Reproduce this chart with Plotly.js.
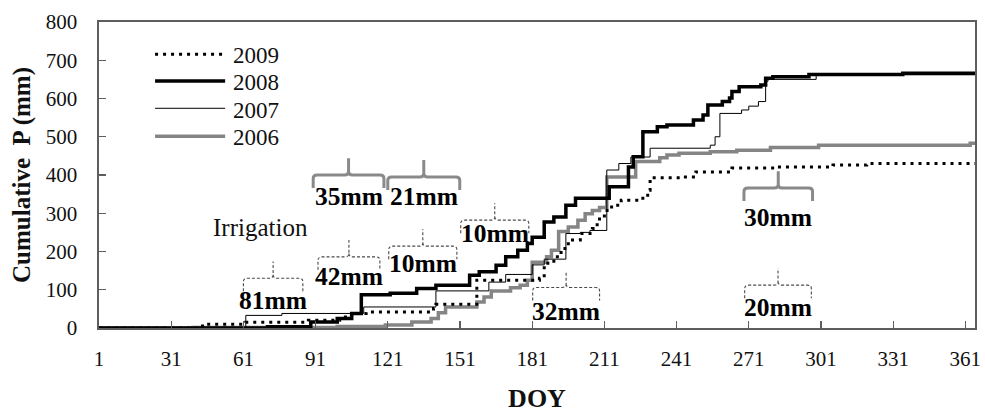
<!DOCTYPE html>
<html>
<head>
<meta charset="utf-8">
<script src="https://cdn.plot.ly/plotly-3.0.1.min.js"></script>
<style>
  html, body { margin: 0; padding: 0; background: #fff; }
  #chart { width: 985px; height: 417px; }
</style>
</head>
<body>
<div id="chart"></div>
<script>
// Cumulative precipitation (mm) by day of year, one step series per year.
const years = ['2009', '2008', '2007', '2006'];

const days2009 = [1, 44, 62, 88, 101, 106, 112, 140, 141, 158, 184, 186, 190, 193, 196, 201, 206, 208, 211, 214, 218, 226, 229, 230, 243, 249, 264, 283, 306, 320, 365];
const cum2009  = [0, 10, 15, 20, 29, 38, 42, 51, 62, 125, 130, 169, 186, 208, 230, 247, 260, 285, 307, 321, 334, 339, 360, 393, 395, 408, 418, 421, 426, 430, 430];

const days2008 = [1, 71, 89, 100, 106, 110, 122, 133, 141, 155, 159, 166, 170, 175, 179, 181, 186, 190, 195, 199, 213, 221, 223, 227, 233, 237, 248, 252, 254, 260, 263, 264, 267, 276, 278, 281, 296, 335, 365];
const cum2008  = [0, 3, 16, 25, 38, 87, 91, 103, 112, 138, 147, 164, 186, 203, 221, 237, 277, 290, 321, 339, 369, 421, 448, 513, 526, 531, 544, 557, 583, 592, 601, 618, 631, 635, 653, 657, 663, 666, 666];

const days2007 = [1, 62, 77, 111, 141, 163, 170, 181, 186, 195, 201, 205, 212, 217, 222, 230, 255, 257, 259, 268, 271, 275, 278, 279, 299, 365];
const cum2007  = [0, 33, 38, 55, 97, 120, 140, 165, 180, 247, 250, 255, 413, 430, 447, 470, 478, 500, 561, 570, 580, 592, 645, 650, 662, 662];

const days2006 = [1, 40, 100, 120, 131, 139, 142, 145, 158, 161, 164, 172, 176, 179, 181, 187, 189, 192, 196, 200, 203, 206, 209, 212, 224, 234, 237, 242, 255, 266, 280, 300, 363, 365];
const cum2006  = [0, 1, 4, 8, 16, 25, 40, 55, 68, 81, 97, 105, 112, 125, 172, 186, 203, 252, 264, 282, 299, 307, 315, 395, 435, 445, 452, 457, 461, 465, 472, 478, 483, 483];

const doyTicks = [1, 31, 61, 91, 121, 151, 181, 211, 241, 271, 301, 331, 361];

// Irrigation events: period (DOY) and applied amount (mm).
const irrigStart  = [61, 92, 90, 121, 121.4, 151.3, 181.2, 269, 269.3];
const irrigEnd    = [85.7, 117.7, 119.4, 150.9, 149.7, 179.6, 209, 297.5, 297];
const irrigAmount = [81, 42, 35, 21, 10, 10, 32, 30, 20];

// Placement of each bracket (mm level of the bar, mm level of its label) and its style.
const bracketLevel = [130, 186, 400, 395, 214, 282, 106, 366, 112];
const labelLevel   = [72, 135, 343, 345, 168, 247, 42, 288, 53];
const bracketSolid = [false, false, true, true, false, false, false, true, false];

const FONT = 'Liberation Serif, Times New Roman, serif';

const lineStyles = {
  '2009': { color: '#000000', width: 3, dash: '3px,5px' },
  '2008': { color: '#000000', width: 3.5, dash: 'solid' },
  '2007': { color: '#000000', width: 1, dash: 'solid' },
  '2006': { color: '#858585', width: 3.5, dash: 'solid' }
};

const seriesData = {
  '2009': [days2009, cum2009],
  '2008': [days2008, cum2008],
  '2007': [days2007, cum2007],
  '2006': [days2006, cum2006]
};

// Draw order: grey first so the black lines sit on top.
const drawOrder = ['2006', '2007', '2009', '2008'];
const traces = drawOrder.map(y => ({
  type: 'scatter',
  mode: 'lines',
  name: y,
  x: seriesData[y][0],
  y: seriesData[y][1],
  line: Object.assign({ shape: 'hv' }, lineStyles[y]),
  showlegend: false,
  hoverinfo: 'skip'
}));

// Brace-like irrigation brackets in data units.
const shapes = [];
const annotations = [];
const hook = 34, tick = 44, rx = 1.6, ry = 9;
for (let i = 0; i < irrigAmount.length; i++) {
  const x0 = irrigStart[i], x1 = irrigEnd[i], xc = (x0 + x1) / 2, yh = bracketLevel[i];
  const yb = yh - hook, yt = yh + tick;
  const path =
    `M${x0},${yb} L${x0},${yh - ry} Q${x0},${yh} ${x0 + rx},${yh} ` +
    `L${xc - rx},${yh} Q${xc},${yh} ${xc},${yh + ry} L${xc},${yt} ` +
    `M${xc},${yh + ry} Q${xc},${yh} ${xc + rx},${yh} ` +
    `L${x1 - rx},${yh} Q${x1},${yh} ${x1},${yh - ry} L${x1},${yb}`;
  shapes.push({
    type: 'path', xref: 'x', yref: 'y', path: path,
    line: bracketSolid[i]
      ? { color: '#8a8a8a', width: 3, dash: 'solid' }
      : { color: '#4a4a4a', width: 1.1, dash: '3px,2px' }
  });
  annotations.push({
    xref: 'x', yref: 'y', x: xc, y: labelLevel[i],
    text: irrigAmount[i] + 'mm', showarrow: false,
    xanchor: 'center', yanchor: 'middle',
    font: { family: FONT, size: 25.5, color: '#000', weight: 'bold' }
  });
}

annotations.push({
  xref: 'x', yref: 'y', x: 68.3, y: 263, text: 'Irrigation', showarrow: false,
  xanchor: 'center', yanchor: 'middle',
  font: { family: FONT, size: 25, color: '#111' }
});

// Legend: sample line plus year label, stacked in the upper-left corner.
const legendRowsY = [0.895, 0.807, 0.718, 0.627];
years.forEach((y, k) => {
  const st = lineStyles[y];
  shapes.push({
    type: 'line', xref: 'paper', yref: 'paper',
    x0: 0.064, x1: 0.144, y0: legendRowsY[k], y1: legendRowsY[k],
    line: { color: st.color, width: st.width, dash: st.dash }
  });
  annotations.push({
    xref: 'paper', yref: 'paper', x: 0.151, y: legendRowsY[k] - 0.006,
    text: y, showarrow: false, xanchor: 'left', yanchor: 'middle',
    font: { family: FONT, size: 23, color: '#111' }
  });
});

const axisCommon = {
  showline: true, linecolor: '#5e5e5e', linewidth: 1.6, mirror: true,
  ticks: 'inside', ticklen: 7, tickcolor: '#5e5e5e', tickwidth: 1.2,
  showgrid: false, zeroline: false,
  tickfont: { family: FONT, size: 21, color: '#111' }
};

const layout = {
  width: 985, height: 417,
  margin: { l: 99, r: 10, t: 22, b: 89.3 },
  paper_bgcolor: '#fff', plot_bgcolor: '#fff',
  showlegend: false,
  xaxis: Object.assign({}, axisCommon, {
    range: [1, 365], tickmode: 'array', tickvals: doyTicks,
    ticklabelstandoff: 11,
    title: { text: 'DOY', standoff: 19, font: { family: FONT, size: 26, color: '#111', weight: 'bold' } }
  }),
  yaxis: Object.assign({}, axisCommon, {
    range: [0, 800], tickmode: 'linear', tick0: 0, dtick: 100,
    ticklabelstandoff: 16,
    title: { text: 'Cumulative\u00a0 P (mm)', standoff: 8, font: { family: FONT, size: 25, color: '#111', weight: 'bold' } }
  }),
  shapes: shapes,
  annotations: annotations
};

Plotly.newPlot('chart', traces, layout, { staticPlot: true, displayModeBar: false });
</script>
</body>
</html>
